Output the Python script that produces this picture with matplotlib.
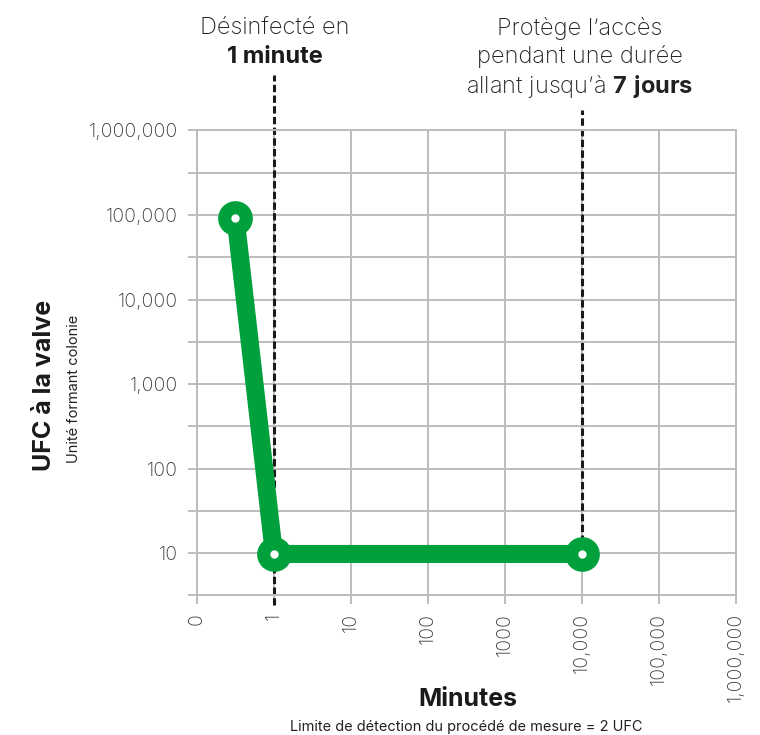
import matplotlib
matplotlib.use("Agg")
import matplotlib.pyplot as plt

# data
minutes = [0.5, 1, 10000]
ufc = [93000, 9.8, 9.8]
x_ticks = [0, 1, 10, 100, 1000, 10000, 100000, 1000000]
x_labels = ["0", "1", "10", "100", "1000", "10,000", "100,000", "1,000,000"]
y_decades = [10, 100, 1000, 10000, 100000, 1000000]
y_labels = ["10", "100", "1,000", "10,000", "100,000", "1,000,000"]
marks = [1, 10000]  # dashed reference lines (minutes)

green = "#00a03c"
grid_c = "#bdbdbd"
txt = "#222222"

plt.rcParams["font.family"] = ["Inter", "DejaVu Sans"]
plt.rcParams["mathtext.fontset"] = "custom"
plt.rcParams["mathtext.bf"] = "Inter:bold"
plt.rcParams["mathtext.rm"] = "Inter:light"

fig = plt.figure(figsize=(7.6, 7.35), dpi=100)
ax = fig.add_axes([0.2592, 0.1898, 0.7092, 0.6327])

ax.set_xscale("symlog", linthresh=1, linscale=0.9)
ax.set_yscale("log")
ax.set_xlim(0, 1e6)
ax.set_ylim(10 ** 0.5, 1e6)

# y ticks on decades and half decades, labels only on decades
yt = []
ylab = []
for v, lab in zip(y_decades, y_labels):
    yt += [v / 10 ** 0.5, v]
    ylab += ["", lab]
ax.set_yticks(yt)
ax.set_yticklabels(ylab)
ax.yaxis.set_minor_locator(matplotlib.ticker.NullLocator())
ax.set_xticks(x_ticks)
ax.set_xticklabels(x_labels, rotation=90)
ax.xaxis.set_minor_locator(matplotlib.ticker.NullLocator())

ax.grid(True, color=grid_c, lw=1.4)
ax.set_axisbelow(True)
for s in ax.spines.values():
    s.set_color(grid_c)
    s.set_linewidth(1.4)
ax.tick_params(axis="both", color=grid_c, width=1.4, length=6.5, labelsize=14,
               labelcolor="#3a3a3a")
ax.tick_params(axis="y", pad=7)
ax.tick_params(axis="x", pad=6)
for t in ax.get_xticklabels() + ax.get_yticklabels():
    t.set_fontweight("light")

# dashed reference lines
ax.plot([marks[0], marks[0]], [2.45, 4.5e6], ls=(0, (2.4, 1.1)), color="#1a1a1a",
        lw=2.2, clip_on=False, zorder=2)
ax.plot([marks[1], marks[1]], [10, 1.75e6], ls=(0, (2.4, 1.1)), color="#1a1a1a",
        lw=2.2, clip_on=False, zorder=2)

# the curve
ax.plot(minutes, ufc, color=green, lw=13, solid_capstyle="round",
        solid_joinstyle="round", zorder=3)
ax.plot(minutes, ufc, "o", ms=25, color=green, mec="none", zorder=4, clip_on=False)
ax.plot(minutes, ufc, "o", ms=6, color="white", mec="none", zorder=5, clip_on=False)

# annotations above
fig.text(275 / 760, 1 - 28 / 735, "Désinfecté en", ha="center", va="center",
         fontsize=17, color=txt, fontweight="light")
fig.text(275 / 760, 1 - 57 / 735, "1 minute", ha="center", va="center",
         fontsize=17, color="#1a1a1a", fontweight="bold")
fig.text(580 / 760, 1 - 28 / 735, "Protège l’accès", ha="center", va="center",
         fontsize=17, color=txt, fontweight="light")
fig.text(580 / 760, 1 - 57 / 735, "pendant une durée", ha="center", va="center",
         fontsize=17, color=txt, fontweight="light")
fig.text(580 / 760, 1 - 86 / 735,
         r"allant jusqu’à $\bf{7\ jours}$", ha="center", va="center",
         fontsize=17, color=txt, fontweight="light")

# axis titles
fig.text(45 / 760, 1 - 385 / 735, "UFC à la valve", rotation=90, ha="center",
         va="center", fontsize=18, fontweight="bold", color="#1a1a1a")
fig.text(74 / 760, 1 - 389 / 735, "Unité formant colonie", rotation=90,
         ha="center", va="center", fontsize=10.5, color=txt)
fig.text(468 / 760, 1 - 700 / 735, "Minutes", ha="center", va="center",
         fontsize=18, fontweight="bold", color="#1a1a1a")
fig.text(466 / 760, 1 - 727 / 735, "Limite de détection du procédé de mesure = 2 UFC",
         ha="center", va="center", fontsize=10.5, color=txt)

fig.savefig("out.png", dpi=100, facecolor="white")
